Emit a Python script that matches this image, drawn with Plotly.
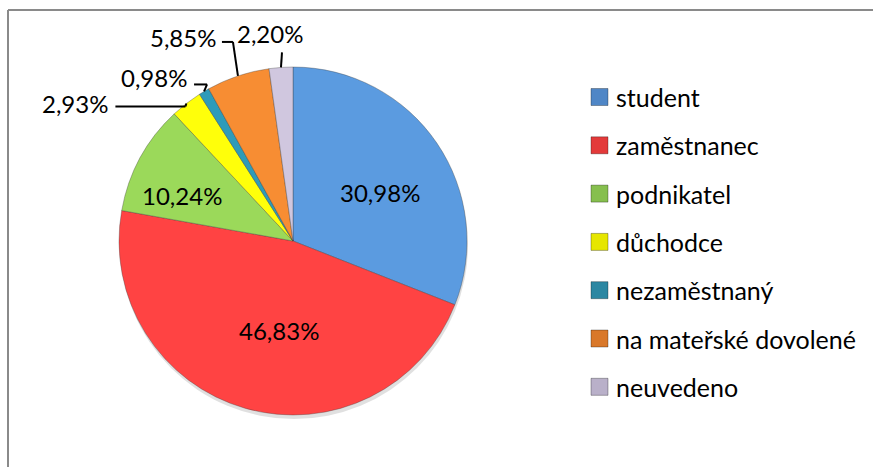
import math
import plotly.graph_objects as go

# ---- data ----
categories = ["student", "zaměstnanec", "podnikatel", "důchodce",
              "nezaměstnaný", "na mateřské dovolené", "neuvedeno"]
shares = [30.98, 46.83, 10.24, 2.93, 0.98, 5.85, 2.20]
share_labels = ["30,98%", "46,83%", "10,24%", "2,93%", "0,98%", "5,85%", "2,20%"]

# ---- style ----
colors = ["#5B9BE0", "#FF4343", "#9BD95A", "#FFFF0A", "#2E9BB9", "#F78D33", "#D0C7DF"]
legend_colors = ["#4F86C6", "#E33A3A", "#86BF4E", "#E6E600", "#2C87A2", "#D9782A", "#B9B0C9"]
FONT = "Lato"
W, H = 873, 467
CX, CY, R = 293, 241, 174  # pixel geometry of the pie

def px(x):
    return x / W

def py(y):
    return 1 - y / H

fig = go.Figure()
# soft drop shadow behind the pie
SH = 4
fig.add_trace(go.Pie(
    values=[sum(shares)], labels=[""], sort=False, textinfo="none", hoverinfo="skip",
    marker=dict(colors=["rgba(0,0,0,0.12)"], line=dict(width=0)),
    domain=dict(x=[px(CX - R + 1), px(CX + R + 1)], y=[py(CY + R + SH), py(CY - R + SH)]),
    showlegend=False,
))
fig.add_trace(go.Pie(
    labels=categories, values=shares, sort=False, direction="clockwise",
    rotation=0, textinfo="none", hoverinfo="label+percent",
    marker=dict(colors=colors, line=dict(color="rgba(60,60,60,0.35)", width=1)),
    domain=dict(x=[px(CX - R), px(CX + R)], y=[py(CY + R), py(CY - R)]),
    showlegend=False,
))

# slice mid angles computed from the data
total = sum(shares)
mids = []
acc = 0.0
for v in shares:
    mids.append((acc + v / 2) / total * 360.0)
    acc += v

def polar(angle_deg, r):
    a = math.radians(angle_deg)
    return CX + r * math.sin(a), CY - r * math.cos(a)

annotations = []
shapes = []

# inside labels (angle nudge, radius factor)
inside_style = {0: (5, 0.57), 1: (-7, 0.52), 2: (-6, 0.69)}
for i, (da, f) in inside_style.items():
    x, y = polar(mids[i] + da, R * f)
    annotations.append(dict(x=px(x), y=py(y), xref="paper", yref="paper",
                            text=share_labels[i], showarrow=False,
                            font=dict(family=FONT, size=24, color="black"),
                            xanchor="center", yanchor="middle"))

# outside labels: offsets relative to the slice edge point
# (label centre offset, leader start offset, elbow offset)
outside_style = {
    3: ((-111, 0), (-71, 3), (-1, 3)),
    4: ((-50, -14), (-10, -7), (3, -7)),
    5: ((-55, -38), (-16, -34), (-5, -34)),
    6: ((-11, -34), (1, -15), (1, -15)),
}
for i, (lab, st, el) in outside_style.items():
    ex, ey = polar(mids[i], R)
    annotations.append(dict(x=px(ex + lab[0]), y=py(ey + lab[1]), xref="paper", yref="paper",
                            text=share_labels[i], showarrow=False,
                            font=dict(family=FONT, size=24, color="black"),
                            xanchor="center", yanchor="middle"))
    pts = [(ex + st[0], ey + st[1]), (ex + el[0], ey + el[1]), (ex, ey)]
    for (x0, y0), (x1, y1) in zip(pts[:-1], pts[1:]):
        if (x0, y0) != (x1, y1):
            shapes.append(dict(type="line", xref="paper", yref="paper",
                               x0=px(x0), y0=py(y0), x1=px(x1), y1=py(y1),
                               line=dict(color="black", width=2)))

# legend (drawn manually to match spacing)
LX, LY0, LDY, SQ = 591, 97, 48.3, 17
for i, name in enumerate(categories):
    yc = LY0 + i * LDY
    shapes.append(dict(type="rect", xref="paper", yref="paper",
                       x0=px(LX), x1=px(LX + SQ), y0=py(yc + SQ / 2), y1=py(yc - SQ / 2),
                       fillcolor=legend_colors[i], line=dict(color="rgba(0,0,0,0.3)", width=1)))
    annotations.append(dict(x=px(LX + SQ + 6), y=py(yc), xref="paper", yref="paper",
                            text=name, showarrow=False,
                            font=dict(family=FONT, size=25, color="black"),
                            xanchor="left", yanchor="middle"))

# chart frame (top and left edges visible in the reference)
frame = dict(color="#8A8A8A", width=2)
shapes.append(dict(type="line", xref="paper", yref="paper",
                   x0=px(8), x1=px(W), y0=py(10), y1=py(10), line=frame))
shapes.append(dict(type="line", xref="paper", yref="paper",
                   x0=px(8), x1=px(8), y0=py(10), y1=py(H), line=frame))

fig.update_layout(
    width=W, height=H, margin=dict(l=0, r=0, t=0, b=0),
    paper_bgcolor="white", plot_bgcolor="white",
    annotations=annotations, shapes=shapes, showlegend=False,
)
fig.write_html(
    "out.html",
    config={"displayModeBar": False},
    post_script="document.body.style.margin='0px';document.documentElement.style.overflow='hidden';",
)
